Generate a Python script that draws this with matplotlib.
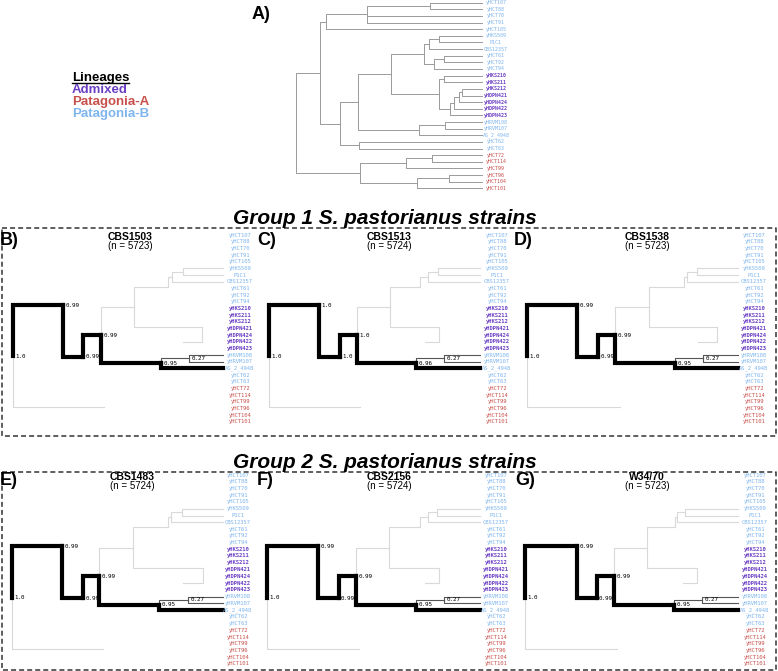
import matplotlib.pyplot as plt

plt.rcParams["lines.scale_dashes"] = False

W, H = 778, 671

# ---- data ----
leaf_names = ["yHCT107", "yHCT88", "yHCT70", "yHCT91", "yHCT105", "yHKS509", "P1C1",
              "CBS12357", "yHCT61", "yHCT92", "yHCT94", "yHKS210", "yHKS211", "yHKS212",
              "yHDPN421", "yHDPN424", "yHDPN422", "yHDPN423", "yHRVM108", "yHRVM107",
              "AS_2_4948", "yHCT62", "yHCT63", "yHCT72", "yHCT114", "yHCT99", "yHCT96",
              "yHCT104", "yHCT101"]
leaf_lineage = ["Patagonia-B"] * 11 + ["Admixed"] * 7 + ["Patagonia-B"] * 5 + ["Patagonia-A"] * 6
lineage_colors = {"Admixed": "#6b3fc4", "Patagonia-A": "#c8504b", "Patagonia-B": "#7fb5ee"}
legend_order = ["Admixed", "Patagonia-A", "Patagonia-B"]

# topology shared by all trees
tree_children = {
    "root": ["U", "PA"],
    "U": ["H1", "M"],
    "H1": ["H1a", "yHCT105"],
    "H1a": ["H1b", "yHCT70", "yHCT91"],
    "H1b": ["yHCT107", "yHCT88"],
    "M": ["C", "H62"],
    "H62": ["yHCT62", "yHCT63"],
    "C": ["G", "D"],
    "G": ["G1", "Z"],
    "G1": ["X", "Y"],
    "X": ["X56", "CBS12357"],
    "X56": ["yHKS509", "P1C1"],
    "Y": ["Y1", "yHCT94"],
    "Y1": ["yHCT61", "yHCT92"],
    "Z": ["a1", "a5"],
    "a1": ["yHKS210", "yHKS211"],
    "a5": ["a4", "yHDPN423"],
    "a4": ["a3", "yHDPN422"],
    "a3": ["a2", "yHDPN424"],
    "a2": ["yHKS212", "yHDPN421"],
    "D": ["R", "AS_2_4948"],
    "R": ["yHRVM108", "yHRVM107"],
    "PA": ["PA1", "PA2"],
    "PA1": ["PA11", "yHCT99"],
    "PA11": ["yHCT72", "yHCT114"],
    "PA2": ["PA21", "yHCT101"],
    "PA21": ["yHCT96", "yHCT104"],
}

# node depths of the species tree (root = 0, tips = 1)
depth_A = {"root": 0, "U": .129, "H1": .162, "H1a": .381, "H1b": .722, "M": .237,
           "H62": .341, "C": .336, "G": .51, "G1": .686, "X": .713, "X56": .767,
           "Y": .74, "Y1": .794, "Z": .767, "a1": .794, "a5": .826, "a4": .848,
           "a3": .874, "a2": .892, "D": .659, "R": .802, "PA": .345, "PA1": .593,
           "PA11": .731, "PA2": .65, "PA21": .82}

# S. pastorianus strain trees
strains = ["CBS1503", "CBS1513", "CBS1538", "CBS1483", "CBS2156", "W34/70"]
n_genes = [5723, 5724, 5723, 5724, 5724, 5723]
support_nodes = ["root", "U", "M", "C", "D", "R"]
support = [
    ["1.0", "0.99", "0.99", "0.99", "0.95", "0.27"],
    ["1.0", "1.0", "1.0", "1.0", "0.96", "0.27"],
    ["1.0", "0.99", "0.99", "0.99", "0.95", "0.27"],
    ["1.0", "0.99", "0.99", "0.99", "0.95", "0.27"],
    ["1.0", "0.99", "0.99", "0.99", "0.95", "0.27"],
    ["1.0", "0.99", "0.99", "0.99", "0.95", "0.27"],
]
depth_nodes = ["U", "M", "C", "D", "R", "G", "G1", "X", "X56", "Z", "a5", "PA"]
depths = [
    [.238, .333, .419, .705, .838, .576, .74, .757, .81, .90, .81, .433],
    [.237, .336, .417, .697, .829, .573, .716, .754, .801, .806, .74, .43],
    [.238, .336, .417, .701, .836, .578, .745, .757, .806, .90, .81, .44],
    [.237, .336, .414, .699, .833, .575, .74, .752, .804, .904, .81, .432],
    [.24, .336, .417, .70, .83, .575, .72, .755, .80, .806, .74, .43],
    [.243, .336, .417, .70, .83, .571, .705, .712, .751, .806, .74, .43],
]
thick_edges = [("root", "U"), ("U", "M"), ("M", "C"), ("C", "D"), ("D", "AS_2_4948")]
thin_edges = [("D", "R"), ("R", "yHRVM108"), ("R", "yHRVM107")]
gray_edges = [("root", "PA"), ("C", "G"), ("G", "G1"), ("G1", "X"), ("X", "X56"),
              ("X", "CBS12357"), ("X56", "yHKS509"), ("X56", "P1C1"), ("G", "Z"), ("Z", "a5")]

panel_letters = ["B)", "C)", "D)", "E)", "F)", "G)"]
group_titles = ["Group 1 S. pastorianus strains", "Group 2 S. pastorianus strains"]

# ---- layout (pixels) ----
# root x, tip x, first leaf y, last leaf y, label centre x
box_A = (296, 482, 2.7, 188.3, 496)
boxes = [
    (13, 223, 235, 421.7, 240),
    (269, 480, 235, 421.7, 497),
    (527, 738, 235, 421.7, 754),
    (11.7, 223, 475, 664, 238),
    (267, 480, 475, 664, 496),
    (525, 738, 475, 664, 755),
]
title_x = [130, 389, 647, 132, 389, 647]
letter_x = [0, 257, 514, 0, 257, 515]

fig = plt.figure(figsize=(W / 100, H / 100), dpi=100)
over = fig.add_axes([0, 0, 1, 1])
over.set_xlim(0, W)
over.set_ylim(H, 0)
over.axis("off")

SANS = "Liberation Sans"
MONO = "DejaVu Sans Mono"


def node_y(node):
    if node not in tree_children:
        return leaf_names.index(node)
    kids = tree_children[node]
    return (node_y(kids[0]) + node_y(kids[-1])) / 2


def tree_ax(box):
    x0, x1, y0, y1, _ = box
    ax = fig.add_axes([x0 / W, 1 - y1 / H, (x1 - x0) / W, (y1 - y0) / H])
    ax.set_xlim(0, 1)
    ax.set_ylim(len(leaf_names) - 1, 0)
    ax.axis("off")
    return ax


def edge(ax, dep, parent, child, **kw):
    px, cx = dep.get(parent, 1.0), dep.get(child, 1.0)
    py, cy = node_y(parent), node_y(child)
    ax.plot([px, px, cx], [py, cy, cy], clip_on=False, **kw)


def leaf_labels(ax, box, size):
    x0, x1, _, _, lc = box
    lx = 1 + (lc - x1) / (x1 - x0)
    for name, lin in zip(leaf_names, leaf_lineage):
        ax.text(lx, leaf_names.index(name), name, ha="center", va="center",
                fontsize=size, family=MONO, color=lineage_colors[lin],
                fontweight="bold" if lin == "Admixed" else "normal")


# panel A
axA = tree_ax(box_A)
for parent, kids in tree_children.items():
    for kid in kids:
        edge(axA, depth_A, parent, kid, color="#9a9a9a", lw=0.7)
leaf_labels(axA, box_A, 3.6)
over.text(252, 19, "A)", fontsize=13, fontweight="bold", family=SANS)

# legend
over.text(72, 81, "Lineages", fontsize=9.5, fontweight="bold", family=SANS, color="black")
over.plot([72, 129], [83, 83], color="black", lw=1)
for i, lin in enumerate(legend_order):
    over.text(72, 93 + 12 * i, lin, fontsize=9.5, fontweight="bold", family=SANS,
              color=lineage_colors[lin])

# panels B-G
for k in range(6):
    box = boxes[k]
    ax = tree_ax(box)
    dep = {"root": 0}
    dep.update(dict(zip(depth_nodes, depths[k])))
    for p, c in gray_edges:
        edge(ax, dep, p, c, color="#d9d9d9", lw=0.8)
    for p, c in thin_edges:
        edge(ax, dep, p, c, color="#555555", lw=0.8)
    for p, c in thick_edges:
        edge(ax, dep, p, c, color="black", lw=3, solid_capstyle="projecting",
             solid_joinstyle="miter")
    span = box[1] - box[0]
    for nd, s in zip(support_nodes, support[k]):
        ax.text(dep[nd] + 2.5 / span, node_y(nd), s, ha="left", va="center",
                fontsize=4.2, family=MONO, color="black", clip_on=False)
    leaf_labels(ax, box, 4.0)

    top = box[2] - 235 + 240.3
    over.text(title_x[k], top, strains[k], ha="center", va="baseline", fontsize=7.5,
              fontweight="bold", family=SANS)
    over.text(title_x[k], top + 8.8, "(n = %d)" % n_genes[k], ha="center",
              va="baseline", fontsize=7, family=SANS)
    over.text(letter_x[k], top + 4.5, panel_letters[k], ha="left", va="baseline",
              fontsize=13, fontweight="bold", family=SANS)

# group titles and dashed frames
for g, (base, y0, y1) in enumerate([(223.5, 228, 436), (467.5, 472, 670)]):
    over.text(385, base, group_titles[g], ha="center", va="baseline", fontsize=15,
              fontweight="bold", fontstyle="italic", family=SANS)
    over.plot([2, 776, 776, 2, 2], [y0, y0, y1, y1, y0], color="#333333", lw=1.1,
              dashes=(3.6, 2.2), clip_on=False)

fig.savefig("out.png", dpi=100)
